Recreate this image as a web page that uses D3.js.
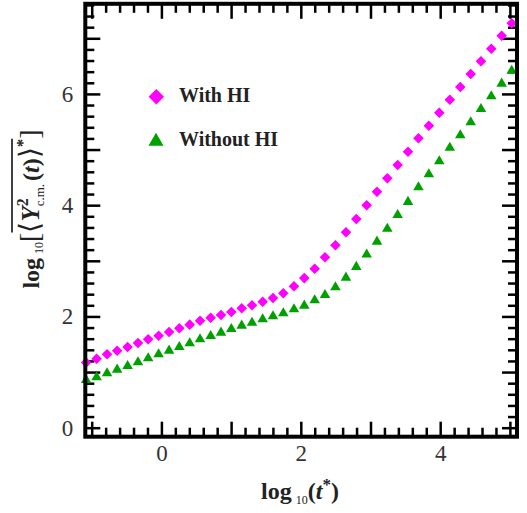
<!DOCTYPE html>
<html>
<head>
<meta charset="utf-8">
<script src="https://cdn.jsdelivr.net/npm/d3@7"></script>
<style>
  body { margin: 0; background: #fff; }
  svg { display: block; }
</style>
</head>
<body>
<svg id="chart" width="527" height="513"></svg>
<script>
// log10(t*) for every sample
const logT = [-1.08, -0.93, -0.78, -0.635, -0.485, -0.336, -0.19, -0.04, 0.11, 0.257,
  0.406, 0.554, 0.707, 0.855, 1.003, 1.152, 1.30, 1.453, 1.601, 1.749,
  1.902, 2.05, 2.199, 2.347, 2.497, 2.648, 2.796, 2.945, 3.093, 3.241,
  3.39, 3.538, 3.688, 3.837, 3.987, 4.138, 4.288, 4.438, 4.585, 4.733,
  4.882, 5.026];

const withHI = [1.17, 1.24, 1.319, 1.384, 1.451, 1.523, 1.589, 1.654, 1.72, 1.787,
  1.852, 1.923, 1.977, 2.026, 2.08, 2.146, 2.20, 2.265, 2.332, 2.416,
  2.544, 2.689, 2.858, 3.063, 3.279, 3.512, 3.752, 3.998, 4.242, 4.483,
  4.722, 4.961, 5.202, 5.429, 5.662, 5.896, 6.124, 6.358, 6.586, 6.813,
  7.047, 7.269];

const withoutHI = [0.857, 0.906, 0.978, 1.043, 1.109, 1.176, 1.248, 1.319, 1.384, 1.451,
  1.517, 1.589, 1.648, 1.708, 1.774, 1.834, 1.887, 1.949, 2.003, 2.056,
  2.128, 2.193, 2.29, 2.385, 2.525, 2.697, 2.89, 3.113, 3.344, 3.577,
  3.823, 4.06, 4.321, 4.555, 4.789, 5.033, 5.256, 5.49, 5.729, 5.957,
  6.184, 6.417];

const seriesNames = ["With HI", "Without HI"];
const xTickLabels = [0, 2, 4];
const yTickLabels = [0, 2, 4, 6];

const serif = "Liberation Serif, Times New Roman, serif";
const magenta = "#ff00ff";
const green = "#00a000";

const svg = d3.select("#chart");
const plot = { left: 85.3, right: 517, top: 3.8, bottom: 436.7 };

const x = d3.scaleLinear().domain([-1.092, 5.102]).range([plot.left, plot.right]);
const y = d3.scaleLinear().domain([-0.162, 7.62]).range([plot.bottom, plot.top]);

// ticks every 0.2, longer ones at integers
const minorX = d3.range(-5, 26).filter(i => i % 5 !== 0).map(i => i / 5);
const majorX = d3.range(-1, 6);
const minorY = d3.range(0, 39).filter(i => i % 5 !== 0).map(i => i / 5);
const majorY = d3.range(0, 8);

const styleAxis = (g) => {
  g.select(".domain").remove();
  g.selectAll(".tick line").attr("stroke", "#000").attr("stroke-width", 2.5);
  g.selectAll(".tick text")
    .attr("font-family", serif)
    .attr("font-size", 23)
    .attr("fill", "#333");
};

// bottom
svg.append("g").attr("transform", `translate(0,${plot.bottom})`)
  .call(d3.axisBottom(x).tickValues(minorX).tickSize(-9).tickFormat(""))
  .call(styleAxis);
svg.append("g").attr("transform", `translate(0,${plot.bottom})`)
  .call(d3.axisBottom(x).tickValues(majorX).tickSize(-15).tickPadding(8)
    .tickFormat(d => xTickLabels.includes(d) ? d : ""))
  .call(styleAxis);
// top
svg.append("g").attr("transform", `translate(0,${plot.top})`)
  .call(d3.axisTop(x).tickValues(minorX).tickSize(-9).tickFormat(""))
  .call(styleAxis);
svg.append("g").attr("transform", `translate(0,${plot.top})`)
  .call(d3.axisTop(x).tickValues(majorX).tickSize(-15).tickFormat(""))
  .call(styleAxis);
// left
svg.append("g").attr("transform", `translate(${plot.left},0)`)
  .call(d3.axisLeft(y).tickValues(minorY).tickSize(-9).tickFormat(""))
  .call(styleAxis);
svg.append("g").attr("transform", `translate(${plot.left},0)`)
  .call(d3.axisLeft(y).tickValues(majorY).tickSize(-15).tickPadding(12)
    .tickFormat(d => yTickLabels.includes(d) ? d : ""))
  .call(styleAxis);
// right
svg.append("g").attr("transform", `translate(${plot.right},0)`)
  .call(d3.axisRight(y).tickValues(minorY).tickSize(-9).tickFormat(""))
  .call(styleAxis);
svg.append("g").attr("transform", `translate(${plot.right},0)`)
  .call(d3.axisRight(y).tickValues(majorY).tickSize(-15).tickFormat(""))
  .call(styleAxis);

// markers
const diamond = (size) => d3.symbol(d3.symbolSquare, size)();
const triangle = (size) => d3.symbol(d3.symbolTriangle, size)();

svg.append("g")
  .selectAll("path")
  .data(logT.map((t, i) => [t, withoutHI[i]]))
  .join("path")
  .attr("d", triangle(48))
  .attr("fill", green)
  .attr("transform", d => `translate(${x(d[0])},${y(d[1])})`);

svg.append("g")
  .selectAll("path")
  .data(logT.map((t, i) => [t, withHI[i]]))
  .join("path")
  .attr("d", diamond(56))
  .attr("fill", magenta)
  .attr("transform", d => `translate(${x(d[0])},${y(d[1])}) rotate(45)`);

// frame on top
svg.append("rect")
  .attr("x", plot.left).attr("y", plot.top)
  .attr("width", plot.right - plot.left)
  .attr("height", plot.bottom - plot.top)
  .attr("fill", "none")
  .attr("stroke", "#000")
  .attr("stroke-width", 4);

// legend
const legend = svg.append("g").attr("font-family", serif).attr("font-weight", "bold")
  .attr("font-size", 20).attr("fill", "#222");
legend.append("path").attr("d", diamond(118)).attr("fill", magenta)
  .attr("transform", "translate(156.3,96.7) rotate(45)");
legend.append("text").attr("x", 179).attr("y", 102).text(seriesNames[0]);
legend.append("path").attr("d", triangle(98)).attr("fill", green)
  .attr("transform", "translate(156,141.5)");
legend.append("text").attr("x", 179).attr("y", 146).text(seriesNames[1]);

// x label: log10(t*)
const xLabel = svg.append("text")
  .attr("x", 300).attr("y", 499)
  .attr("text-anchor", "middle")
  .attr("font-family", serif)
  .attr("fill", "#222");
xLabel.append("tspan").attr("font-weight", "bold").attr("font-size", 24).text("log");
xLabel.append("tspan").attr("font-size", 12).attr("dx", 4).attr("dy", 5).text("10");
xLabel.append("tspan").attr("font-weight", "bold").attr("font-size", 24).attr("dy", -5).text("(");
xLabel.append("tspan").attr("font-weight", "bold").attr("font-style", "italic").attr("font-size", 24).text("t");
xLabel.append("tspan").attr("font-weight", "bold").attr("font-size", 17).attr("dy", -9).text("*");
xLabel.append("tspan").attr("font-weight", "bold").attr("font-size", 24).attr("dy", 9).text(")");

// y label: log10[<Y^2_c.m.(t)>*] with an overline
const yGroup = svg.append("g").attr("transform", "translate(39,209) rotate(-90)");
const yLabel = yGroup.append("text")
  .attr("text-anchor", "middle")
  .attr("font-family", serif)
  .attr("fill", "#222");
yLabel.append("tspan").attr("font-weight", "bold").attr("font-size", 24).text("log");
yLabel.append("tspan").attr("font-size", 12).attr("dx", 4).attr("dy", 4).text("10");
yLabel.append("tspan").attr("font-size", 28).attr("dy", -4).text("[");
yLabel.append("tspan").attr("font-size", 28).text("\u27E8");
yLabel.append("tspan").attr("font-weight", "bold").attr("font-style", "italic").attr("font-size", 25).text("Y");
yLabel.append("tspan").attr("font-weight", "bold").attr("font-size", 16).attr("dy", -11).text("2");
yLabel.append("tspan").attr("font-size", 13).attr("dx", -8).attr("dy", 16).text("c.m.");
yLabel.append("tspan").attr("font-weight", "bold").attr("font-size", 24).attr("dx", 3).attr("dy", -5).text("(");
yLabel.append("tspan").attr("font-weight", "bold").attr("font-style", "italic").attr("font-size", 24).text("t");
yLabel.append("tspan").attr("font-weight", "bold").attr("font-size", 24).text(")");
yLabel.append("tspan").attr("font-size", 28).text("\u27E9");
yLabel.append("tspan").attr("font-weight", "bold").attr("font-size", 17).attr("dy", -11).text("*");
yLabel.append("tspan").attr("font-size", 28).attr("dy", 11).text("]");

const yNode = yLabel.node();
const start = yNode.getExtentOfChar(6);
const end = yNode.getExtentOfChar(17);
yGroup.append("line")
  .attr("x1", start.x).attr("x2", end.x + end.width)
  .attr("y1", -27).attr("y2", -27)
  .attr("stroke", "#000").attr("stroke-width", 1.5);
</script>
</body>
</html>
